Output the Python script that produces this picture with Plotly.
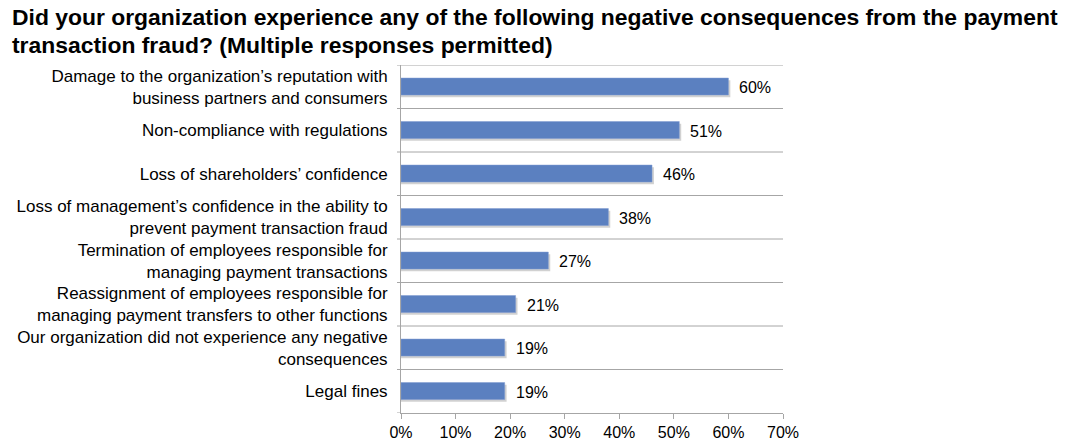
import plotly.graph_objects as go

categories = [
    "Damage to the organization’s reputation with<br>business partners and consumers",
    "Non-compliance with regulations",
    "Loss of shareholders’ confidence",
    "Loss of management’s confidence in the ability to<br>prevent payment transaction fraud",
    "Termination of employees responsible for<br>managing payment transactions",
    "Reassignment of employees responsible for<br>managing payment transfers to other functions",
    "Our organization did not experience any negative<br>consequences",
    "Legal fines",
]
values = [60, 51, 46, 38, 27, 21, 19, 19]
x_ticks = [0, 10, 20, 30, 40, 50, 60, 70]
x_ticktext = [f"{v}%" for v in x_ticks]

title_lines = [
    "Did your organization experience any of the following negative consequences from the payment",
    "transaction fraud? (Multiple responses permitted)",
]

FONT = "Liberation Sans, Arial, sans-serif"
BAR = "#5B80C0"
GRID = "#A6A6A6"

W, H = 1066, 447
L, R, T, B = 401, 283, 65, 34
PW, PH = W - L - R, H - T - B

idx = list(range(len(categories)))

fig = go.Figure()
# shadow
fig.add_trace(go.Bar(
    y=idx, x=[v + 0.35 for v in values], orientation="h",
    width=0.39, offset=-0.15,
    marker=dict(color="rgba(0,0,0,0.18)", line=dict(width=0)),
    hoverinfo="skip", showlegend=False,
))
fig.add_trace(go.Bar(
    y=idx, x=values, orientation="h",
    width=0.39, offset=-0.2,
    marker=dict(color=BAR, line=dict(color="#7E9BD0", width=0.5)),
    showlegend=False,
))

for i, v in enumerate(values):
    fig.add_annotation(x=v, y=i, xref="x", yref="y", text=f"{v}%",
                       showarrow=False, xanchor="left", xshift=9, yshift=-1,
                       font=dict(family=FONT, size=16, color="#000000"))

# horizontal gridlines at category boundaries with left tick marks
for k in range(len(categories)):
    b = k - 0.5
    fig.add_shape(type="line", xref="paper", yref="y", x0=-4 / PW, x1=1, y0=b, y1=b,
                  line=dict(color=GRID, width=1))
fig.add_shape(type="line", xref="paper", yref="y", x0=-4 / PW, x1=0, y0=7.5, y1=7.5,
              line=dict(color=GRID, width=1))

title_px_y = [17, 45]
for j, line in enumerate(title_lines):
    fig.add_annotation(x=(10 - L) / PW, y=(T + PH - title_px_y[j]) / PH,
                       xref="paper", yref="paper",
                       text=f"<b>{line}</b>", showarrow=False, xanchor="left", yanchor="middle",
                       font=dict(family=FONT, size=22.9, color="#000000"))

fig.update_layout(
    width=W, height=H,
    margin=dict(l=L, r=R, t=T, b=B, autoexpand=False),
    paper_bgcolor="white", plot_bgcolor="white",
    barmode="overlay",
    font=dict(family=FONT, size=16, color="#000000"),
    xaxis=dict(range=[0, 70], tickvals=x_ticks, ticktext=x_ticktext,
               showgrid=False, zeroline=False, showline=True, linecolor=GRID, linewidth=1,
               ticks="outside", ticklen=5, tickcolor=GRID,
               tickfont=dict(family=FONT, size=16, color="#000000")),
    yaxis=dict(range=[7.5, -0.5], tickvals=idx, ticktext=categories,
               showgrid=False, zeroline=False, showline=True, linecolor=GRID, linewidth=1,
               ticks="", ticklabelstandoff=9, automargin=False,
               tickfont=dict(family=FONT, size=17, color="#000000")),
)

fig.write_html("out.html", config={"displayModeBar": False},
               post_script="document.body.style.margin='0';")
